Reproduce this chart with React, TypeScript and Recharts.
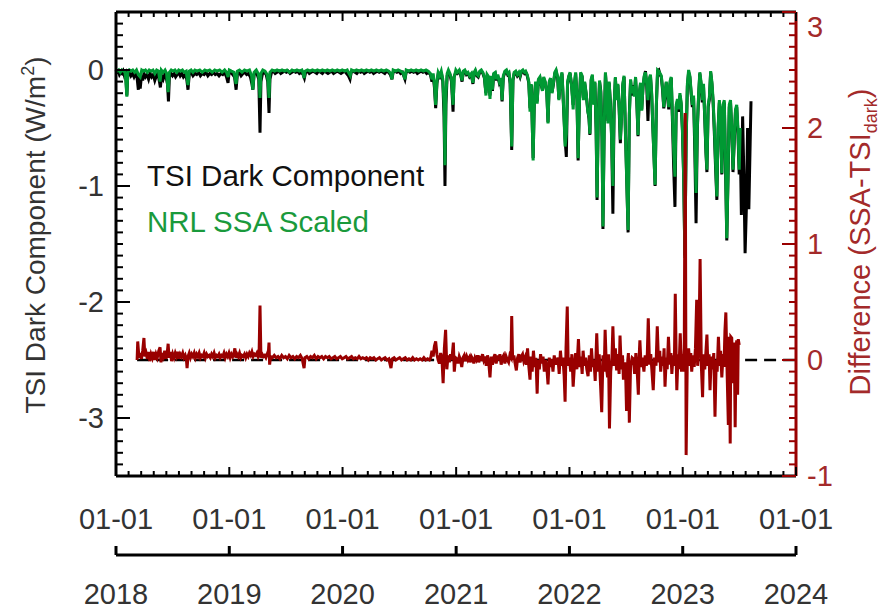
import React from 'react';
import { ComposedChart, Line, XAxis, YAxis, ReferenceLine } from 'recharts';

// Day offsets counted from 2018-01-01; each New Year's Day gets a major tick.
const yearDays = [0, 365, 730, 1096, 1461, 1826, 2191];
const yearLabels = ['2018', '2019', '2020', '2021', '2022', '2023', '2024'];
const dateLabel = '01-01';

// TSI dark component, W/m^2  [day, value]
const tsiDark: [number, number][] = [
  [0, 0], [3, -0.02], [7, -0.01], [11, -0.04], [15, -0.02], [19, -0.03], [23, -0.01], [27, -0.05], [31, -0.03], [35, -0.22],
  [38, -0.04], [43, -0.02], [48, -0.05], [53, -0.03], [58, -0.06], [63, -0.03], [68, -0.07], [72, -0.17], [75, -0.06], [78, -0.16],
  [82, -0.05], [86, -0.09], [90, -0.03], [95, -0.06], [100, -0.04], [105, -0.08], [110, -0.03], [115, -0.06], [120, -0.04], [125, -0.09],
  [130, -0.05], [135, -0.03], [140, -0.1], [143, -0.15], [147, -0.05], [152, -0.08], [157, -0.04], [162, -0.07], [166, -0.12], [169, -0.27],
  [172, -0.06], [177, -0.03], [182, -0.05], [187, -0.03], [192, -0.06], [197, -0.04], [202, -0.02], [207, -0.05], [212, -0.03], [217, -0.06],
  [222, -0.04], [228, -0.08], [232, -0.17], [236, -0.04], [242, -0.02], [248, -0.05], [254, -0.03], [260, -0.04], [266, -0.02], [272, -0.05],
  [278, -0.03], [284, -0.04], [290, -0.02], [296, -0.05], [302, -0.03], [308, -0.04], [314, -0.02], [320, -0.04], [326, -0.03], [332, -0.05],
  [338, -0.03], [344, -0.04], [350, -0.02], [356, -0.06], [361, -0.11], [364, -0.03], [370, -0.02], [376, -0.04], [382, -0.06], [387, -0.17],
  [391, -0.04], [397, -0.02], [403, -0.05], [409, -0.03], [415, -0.02], [421, -0.04], [427, -0.03], [433, -0.06], [438, -0.12], [441, -0.17],
  [445, -0.04], [450, -0.02], [455, -0.04], [460, -0.08], [464, -0.54], [467, -0.1], [472, -0.03], [478, -0.02], [484, -0.04], [489, -0.1],
  [493, -0.37], [496, -0.08], [501, -0.02], [507, -0.01], [513, -0.03], [519, -0.02], [525, -0.01], [531, -0.03], [537, -0.02], [543, -0.01],
  [549, -0.02], [555, -0.01], [561, -0.03], [567, -0.02], [573, -0.01], [579, -0.02], [585, -0.01], [591, -0.03], [597, -0.02], [603, -0.04],
  [607, -0.07], [611, -0.02], [617, -0.01], [623, -0.03], [629, -0.02], [635, -0.01], [641, -0.02], [647, -0.03], [653, -0.01], [659, -0.02],
  [665, -0.03], [671, -0.01], [677, -0.02], [683, -0.03], [689, -0.02], [695, -0.01], [701, -0.03], [707, -0.02], [713, -0.01], [719, -0.02],
  [725, -0.03], [731, -0.02], [737, -0.01], [743, -0.03], [749, -0.05], [754, -0.08], [758, -0.02], [764, -0.01], [770, -0.02], [776, -0.03],
  [782, -0.01], [788, -0.02], [794, -0.01], [800, -0.03], [806, -0.02], [812, -0.01], [818, -0.02], [824, -0.01], [830, -0.03], [836, -0.02],
  [842, -0.01], [848, -0.02], [854, -0.01], [860, -0.02], [866, -0.03], [872, -0.01], [878, -0.02], [884, -0.04], [889, -0.08], [893, -0.02],
  [899, -0.01], [905, -0.02], [911, -0.01], [917, -0.03], [923, -0.02], [927, -0.05], [931, -0.08], [935, -0.02], [941, -0.01], [947, -0.02],
  [953, -0.01], [959, -0.02], [965, -0.01], [971, -0.03], [977, -0.02], [983, -0.01], [989, -0.02], [995, -0.01], [1001, -0.03], [1007, -0.02],
  [1013, -0.04], [1018, -0.1], [1022, -0.05], [1026, -0.15], [1030, -0.33], [1034, -0.12], [1038, -0.04], [1043, -0.06], [1048, -0.02], [1053, -0.1],
  [1057, -0.4], [1060, -1.0], [1063, -0.3], [1067, -0.05], [1071, -0.02], [1076, -0.04], [1081, -0.1], [1086, -0.36], [1089, -0.06], [1095, -0.02],
  [1100, -0.03], [1106, -0.01], [1111, -0.05], [1115, -0.1], [1119, -0.02], [1124, -0.01], [1129, -0.04], [1134, -0.03], [1139, -0.06], [1145, -0.04],
  [1150, -0.12], [1154, -0.03], [1158, -0.01], [1163, -0.05], [1167, -0.06], [1172, -0.02], [1177, -0.01], [1182, -0.03], [1187, -0.07], [1192, -0.2],
  [1196, -0.05], [1201, -0.07], [1205, -0.22], [1209, -0.06], [1213, -0.18], [1217, -0.04], [1222, -0.03], [1226, -0.09], [1230, -0.05], [1235, -0.11],
  [1240, -0.08], [1244, -0.27], [1248, -0.06], [1253, -0.02], [1258, -0.01], [1262, -0.04], [1266, -0.03], [1270, -0.12], [1275, -0.69], [1279, -0.09],
  [1283, -0.03], [1288, -0.02], [1293, -0.05], [1298, -0.03], [1302, -0.06], [1306, -0.02], [1311, -0.01], [1316, -0.03], [1320, -0.02], [1325, -0.05],
  [1330, -0.11], [1334, -0.33], [1338, -0.13], [1344, -0.76], [1348, -0.25], [1352, -0.11], [1357, -0.27], [1361, -0.09], [1366, -0.07], [1370, -0.13],
  [1374, -0.17], [1378, -0.07], [1383, -0.11], [1388, -0.19], [1392, -0.45], [1396, -0.11], [1400, -0.08], [1405, -0.19], [1409, -0.13], [1414, -0.03],
  [1418, -0.01], [1423, -0.07], [1427, -0.25], [1432, -0.09], [1437, -0.03], [1442, -0.32], [1447, -0.6], [1451, -0.75], [1455, -0.12], [1459, -0.06],
  [1463, -0.03], [1468, -0.13], [1473, -0.3], [1477, -0.13], [1481, -0.03], [1485, -0.22], [1489, -0.78], [1493, -0.28], [1497, -0.03], [1502, -0.06],
  [1506, -0.24], [1510, -0.11], [1515, -0.21], [1520, -0.34], [1524, -0.42], [1527, -0.56], [1531, -0.09], [1535, -0.05], [1539, -0.28], [1543, -0.11],
  [1547, -0.52], [1550, -1.12], [1554, -0.38], [1558, -0.1], [1562, -0.18], [1566, -0.58], [1569, -1.37], [1573, -0.48], [1577, -0.03], [1581, -0.19],
  [1585, -0.44], [1589, -0.11], [1593, -0.28], [1597, -0.58], [1601, -1.24], [1605, -0.32], [1609, -0.07], [1613, -0.25], [1617, -0.13], [1621, -0.33],
  [1625, -0.63], [1629, -0.38], [1633, -0.13], [1637, -0.06], [1641, -0.48], [1646, -0.98], [1650, -1.4], [1654, -0.38], [1658, -0.09], [1662, -0.22],
  [1666, -0.13], [1670, -0.22], [1674, -0.07], [1678, -0.27], [1682, -0.57], [1686, -0.22], [1690, -0.12], [1694, -0.34], [1698, -0.15], [1702, -0.06],
  [1706, -0.01], [1710, -0.13], [1714, -0.44], [1718, -0.1], [1722, -0.05], [1726, -0.22], [1730, -0.52], [1734, -0.78], [1737, -1.0], [1741, -0.32],
  [1745, -0.01], [1749, 0], [1753, -0.04], [1757, -0.06], [1761, -0.17], [1765, -0.33], [1769, -0.22], [1773, -0.11], [1777, -0.22], [1781, -0.34],
  [1785, -0.12], [1789, -0.07], [1793, -0.45], [1797, -0.85], [1801, -1.18], [1805, -0.32], [1809, -0.27], [1813, -0.36], [1817, -0.22], [1821, -0.3],
  [1825, -0.52], [1829, -0.92], [1833, -1.6], [1837, -0.62], [1841, -0.14], [1845, -0.02], [1849, -0.06], [1853, -0.2], [1857, -0.32], [1861, -0.24],
  [1865, -0.7], [1869, -1.32], [1873, -0.52], [1877, -0.24], [1881, -0.03], [1885, -0.12], [1889, -0.28], [1893, -0.14], [1897, -0.42], [1901, -0.72],
  [1904, -0.88], [1908, -0.32], [1912, -0.25], [1916, -0.02], [1920, -0.12], [1924, -0.28], [1928, -0.55], [1932, -0.85], [1936, -1.12], [1940, -0.52],
  [1944, -0.28], [1948, -0.42], [1952, -0.9], [1956, -0.32], [1960, -0.28], [1964, -0.85], [1968, -1.47], [1972, -0.92], [1976, -0.32], [1980, -0.28],
  [1984, -0.52], [1988, -0.88], [1992, -0.62], [1996, -0.36], [2000, -0.32], [2004, -0.55], [2008, -0.9], [2011, -0.55], [2015, -1.25], [2019, -0.4],
  [2023, -0.9], [2027, -1.58], [2031, -1.2], [2035, -0.5], [2039, -1.2], [2046, -0.27],
];

// NRL SSA, scaled to the TSI dark component  [day, value]
const ssaScaled: [number, number][] = [
  [0, 0], [4, -0.01], [9, 0], [14, -0.02], [19, 0], [24, -0.01], [29, -0.02], [32, -0.1], [35, -0.23], [38, -0.02],
  [43, 0], [48, -0.01], [54, 0], [60, -0.02], [66, 0], [72, -0.04], [78, -0.06], [83, 0], [89, -0.01], [95, 0],
  [101, -0.02], [107, 0], [113, -0.01], [119, 0], [125, -0.03], [131, 0], [137, -0.01], [142, -0.1], [146, 0], [152, -0.02],
  [158, 0], [163, -0.03], [168, -0.19], [172, -0.02], [178, 0], [184, -0.01], [190, 0], [196, -0.02], [202, 0], [208, -0.01],
  [214, 0], [220, -0.02], [226, -0.01], [232, -0.13], [236, -0.01], [242, 0], [248, -0.02], [254, 0], [262, -0.01], [270, 0],
  [278, -0.02], [286, 0], [294, -0.01], [302, 0], [310, -0.02], [318, 0], [326, -0.01], [334, 0], [342, -0.02], [350, 0],
  [356, -0.02], [361, -0.06], [365, 0], [372, -0.01], [380, -0.02], [387, -0.12], [391, -0.01], [398, 0], [406, -0.02], [414, 0],
  [422, -0.01], [430, 0], [437, -0.05], [441, -0.17], [445, -0.02], [452, 0], [458, -0.03], [461, -0.08], [464, -0.24], [467, -0.03],
  [473, 0], [480, -0.01], [487, -0.04], [490, -0.1], [493, -0.24], [496, -0.02], [503, 0], [511, -0.01], [519, 0], [527, -0.01],
  [535, 0], [543, -0.01], [551, 0], [559, -0.02], [567, 0], [575, -0.01], [583, 0], [591, -0.01], [599, 0], [603, -0.03],
  [606, -0.07], [609, -0.01], [617, 0], [625, -0.01], [633, 0], [641, -0.01], [649, 0], [657, -0.01], [665, 0], [673, -0.01],
  [681, 0], [689, -0.01], [697, 0], [705, -0.01], [713, 0], [721, -0.01], [729, 0], [737, -0.01], [745, 0], [751, -0.03],
  [755, -0.05], [759, 0], [767, -0.01], [775, 0], [783, -0.01], [791, 0], [799, -0.01], [807, 0], [815, -0.01], [823, 0],
  [831, -0.01], [839, 0], [847, -0.01], [855, 0], [863, -0.01], [871, 0], [879, -0.01], [885, -0.03], [889, -0.08], [893, 0],
  [901, -0.01], [909, 0], [917, -0.01], [924, -0.02], [928, -0.05], [931, -0.08], [935, 0], [943, -0.01], [951, 0], [959, -0.01],
  [967, 0], [975, -0.01], [983, 0], [991, -0.01], [999, 0], [1006, -0.01], [1013, -0.03], [1018, -0.08], [1022, -0.03], [1026, -0.12],
  [1030, -0.3], [1034, -0.1], [1038, -0.02], [1043, -0.05], [1048, -0.01], [1053, -0.08], [1057, -0.3], [1060, -0.82], [1063, -0.22], [1067, -0.03],
  [1071, 0], [1076, -0.03], [1081, -0.08], [1086, -0.3], [1090, -0.06], [1095, 0], [1100, -0.02], [1106, 0], [1111, -0.04], [1115, -0.09],
  [1119, -0.01], [1124, 0], [1129, -0.03], [1134, -0.02], [1139, -0.05], [1145, -0.03], [1150, -0.11], [1154, -0.02], [1158, 0], [1163, -0.04],
  [1167, -0.05], [1172, -0.01], [1177, 0], [1182, -0.02], [1187, -0.06], [1192, -0.22], [1196, -0.04], [1201, -0.06], [1205, -0.25], [1209, -0.05],
  [1213, -0.17], [1217, -0.03], [1222, -0.02], [1226, -0.08], [1230, -0.04], [1235, -0.1], [1240, -0.07], [1244, -0.26], [1248, -0.05], [1253, -0.01],
  [1258, 0], [1262, -0.03], [1266, -0.02], [1270, -0.1], [1275, -0.66], [1279, -0.08], [1283, -0.02], [1288, -0.01], [1293, -0.04], [1298, -0.02],
  [1302, -0.05], [1306, -0.01], [1311, 0], [1316, -0.02], [1320, -0.01], [1325, -0.04], [1330, -0.1], [1334, -0.36], [1338, -0.12], [1344, -0.78],
  [1348, -0.24], [1352, -0.1], [1357, -0.29], [1361, -0.08], [1366, -0.06], [1370, -0.12], [1374, -0.18], [1378, -0.06], [1383, -0.1], [1388, -0.2],
  [1392, -0.46], [1396, -0.1], [1400, -0.07], [1405, -0.2], [1409, -0.12], [1414, -0.02], [1418, 0], [1423, -0.06], [1427, -0.26], [1432, -0.08],
  [1437, -0.02], [1442, -0.3], [1447, -0.66], [1451, -0.55], [1455, -0.1], [1459, -0.05], [1463, -0.02], [1468, -0.14], [1473, -0.34], [1477, -0.12],
  [1481, -0.02], [1485, -0.2], [1489, -0.76], [1493, -0.3], [1497, -0.02], [1502, -0.05], [1506, -0.26], [1510, -0.1], [1515, -0.2], [1520, -0.36],
  [1524, -0.4], [1527, -0.55], [1531, -0.08], [1535, -0.04], [1539, -0.3], [1543, -0.1], [1547, -0.5], [1550, -1.1], [1554, -0.4], [1558, -0.09],
  [1562, -0.2], [1566, -0.6], [1569, -1.35], [1573, -0.5], [1577, -0.02], [1581, -0.2], [1585, -0.46], [1589, -0.1], [1593, -0.3], [1597, -0.6],
  [1601, -1.0], [1605, -0.3], [1609, -0.06], [1613, -0.26], [1617, -0.12], [1621, -0.3], [1625, -0.6], [1629, -0.4], [1633, -0.12], [1637, -0.05],
  [1641, -0.5], [1646, -1.0], [1650, -1.38], [1654, -0.4], [1658, -0.08], [1662, -0.2], [1666, -0.14], [1670, -0.23], [1674, -0.06], [1678, -0.25],
  [1682, -0.56], [1686, -0.2], [1690, -0.11], [1694, -0.35], [1698, -0.14], [1702, -0.05], [1706, -0.02], [1710, -0.12], [1714, -0.26], [1718, -0.08],
  [1722, -0.04], [1726, -0.2], [1730, -0.5], [1734, -0.8], [1737, -0.99], [1741, -0.3], [1745, 0], [1749, -0.01], [1753, -0.03], [1757, -0.05],
  [1761, -0.15], [1765, -0.32], [1769, -0.2], [1773, -0.1], [1777, -0.2], [1781, -0.32], [1785, -0.1], [1789, -0.06], [1793, -0.4], [1797, -0.7],
  [1801, -0.92], [1805, -0.3], [1809, -0.25], [1813, -0.34], [1817, -0.2], [1821, -0.28], [1825, -0.5], [1829, -0.9], [1833, -1.62], [1837, -0.6],
  [1841, -0.12], [1845, 0], [1849, -0.05], [1853, -0.18], [1857, -0.3], [1861, -0.22], [1865, -0.6], [1869, -1.06], [1873, -0.5], [1877, -0.22],
  [1881, -0.02], [1885, -0.1], [1889, -0.26], [1893, -0.12], [1897, -0.4], [1901, -0.7], [1904, -0.86], [1908, -0.3], [1912, -0.23], [1916, -0.01],
  [1920, -0.1], [1924, -0.26], [1928, -0.5], [1932, -0.8], [1936, -1.09], [1940, -0.5], [1944, -0.26], [1948, -0.4], [1952, -0.89], [1956, -0.3],
  [1960, -0.26], [1964, -0.8], [1968, -1.45], [1972, -0.9], [1976, -0.3], [1980, -0.26], [1984, -0.5], [1988, -0.86], [1992, -0.6], [1996, -0.34],
  [2000, -0.3], [2004, -0.5], [2008, -0.86], [2011, -0.5],
];

// SSA minus TSI dark component  [day, value]
const difference: [number, number][] = [
  [68, 0.0], [70, 0.16], [74, 0.02], [78, 0.06], [82, 0.01], [86, 0.08], [90, 0.19], [93, 0.03], [97, 0.06], [101, 0.01],
  [105, 0.07], [109, -0.01], [113, 0.05], [117, 0.02], [121, 0.07], [125, 0.0], [129, 0.05], [133, 0.02], [138, 0.08], [142, 0.11],
  [145, -0.02], [149, 0.06], [153, 0.03], [157, 0.08], [161, 0.01], [165, 0.06], [168, 0.14], [171, 0.02], [175, 0.07], [179, -0.01],
  [183, 0.05], [187, 0.02], [191, 0.06], [195, 0.03], [199, 0.07], [203, 0.01], [207, 0.05], [211, 0.03], [215, 0.06], [219, 0.02],
  [223, 0.04], [227, 0.0], [229, -0.07], [232, 0.03], [236, 0.06], [240, 0.02], [244, 0.05], [248, 0.03], [252, 0.06], [256, 0.02],
  [260, 0.05], [264, 0.03], [268, 0.06], [272, 0.02], [276, 0.04], [280, 0.03], [284, 0.06], [288, 0.02], [292, 0.05], [296, 0.03],
  [300, 0.04], [304, 0.02], [308, 0.05], [312, 0.03], [316, 0.06], [320, 0.02], [324, 0.04], [328, 0.03], [332, 0.05], [336, 0.02],
  [340, 0.04], [344, 0.03], [348, 0.06], [352, 0.02], [356, 0.05], [360, 0.03], [364, 0.06], [368, 0.02], [372, 0.05], [376, 0.03],
  [380, 0.06], [383, 0.1], [386, 0.02], [390, 0.05], [394, 0.03], [398, 0.06], [402, 0.02], [406, 0.04], [410, 0.03], [414, 0.05],
  [418, 0.02], [422, 0.05], [426, 0.03], [430, 0.06], [434, 0.04], [438, 0.07], [442, 0.03], [446, 0.05], [450, 0.04], [454, 0.06],
  [458, 0.03], [461, 0.05], [464, 0.47], [467, 0.02], [471, 0.05], [475, 0.03], [479, 0.04], [483, 0.02], [487, 0.05], [490, 0.03],
  [493, 0.15], [495, -0.04], [498, 0.03], [504, 0.02], [510, 0.04], [516, 0.02], [522, 0.03], [528, 0.01], [534, 0.04], [540, 0.02],
  [546, 0.03], [552, 0.01], [558, 0.04], [564, 0.02], [570, 0.03], [576, 0.01], [582, 0.03], [588, 0.02], [594, 0.04], [600, 0.01],
  [606, -0.07], [609, 0.02], [615, 0.03], [621, 0.01], [627, 0.03], [633, 0.02], [639, 0.04], [645, 0.01], [651, 0.03], [657, 0.02],
  [663, 0.03], [669, 0.01], [675, 0.03], [681, 0.02], [687, 0.03], [693, 0.01], [699, 0.02], [705, 0.03], [711, 0.01], [717, 0.02],
  [723, 0.03], [729, 0.01], [735, 0.02], [741, 0.03], [747, 0.01], [753, 0.02], [759, 0.03], [765, 0.01], [771, 0.02], [777, 0.01],
  [783, 0.03], [789, 0.01], [795, 0.02], [801, 0.01], [807, 0.02], [813, 0.0], [819, 0.02], [825, 0.01], [831, 0.02], [837, 0.0],
  [843, 0.01], [849, 0.02], [855, 0.0], [861, 0.01], [867, 0.02], [873, 0.0], [879, 0.01], [886, -0.07], [890, 0.01], [896, 0.02],
  [902, 0.0], [908, 0.01], [914, 0.02], [920, 0.0], [926, 0.01], [932, 0.02], [938, 0.0], [944, 0.01], [950, 0.0], [956, 0.02],
  [962, 0.0], [968, 0.01], [974, 0.0], [980, 0.01], [986, 0.0], [992, 0.02], [998, 0.0], [1004, 0.01], [1010, 0.0], [1014, 0.02],
  [1018, 0.08], [1022, 0.03], [1026, 0.12], [1030, 0.16], [1034, 0.05], [1038, 0.0], [1042, -0.03], [1046, 0.06], [1050, 0.02], [1054, -0.2],
  [1058, 0.1], [1062, 0.26], [1066, -0.08], [1070, 0.04], [1074, -0.02], [1078, 0.05], [1082, 0.0], [1087, 0.15], [1090, -0.1], [1094, 0.02],
  [1098, 0.01], [1102, -0.03], [1106, 0.03], [1110, 0.0], [1114, -0.06], [1118, 0.02], [1122, 0.04], [1126, -0.01], [1130, 0.03], [1134, 0.0],
  [1138, 0.02], [1141, -0.02], [1145, 0.03], [1149, 0.01], [1153, -0.03], [1157, 0.02], [1161, 0.0], [1165, 0.04], [1169, -0.02], [1173, 0.02],
  [1177, 0.01], [1181, 0.05], [1185, 0.0], [1189, 0.03], [1193, -0.05], [1197, 0.04], [1201, -0.02], [1205, -0.15], [1209, 0.03], [1213, -0.04],
  [1217, 0.02], [1221, 0.05], [1225, -0.03], [1229, 0.04], [1233, 0.0], [1237, 0.05], [1241, -0.04], [1245, 0.02], [1249, 0.04], [1253, -0.03],
  [1257, 0.03], [1261, 0.0], [1265, -0.02], [1269, 0.04], [1273, 0.02], [1275, 0.38], [1278, 0.0], [1282, 0.04], [1286, -0.03], [1290, -0.09],
  [1294, 0.02], [1298, 0.05], [1302, -0.02], [1306, 0.03], [1310, 0.05], [1314, -0.01], [1318, 0.02], [1322, -0.04], [1326, 0.1], [1330, -0.05],
  [1334, -0.17], [1337, 0.03], [1341, -0.1], [1345, 0.08], [1349, -0.06], [1353, 0.02], [1357, -0.29], [1360, 0.0], [1364, -0.08], [1368, 0.05],
  [1372, -0.03], [1376, 0.03], [1380, -0.1], [1384, 0.0], [1388, -0.06], [1392, -0.21], [1396, 0.02], [1400, -0.06], [1404, 0.01], [1408, -0.1],
  [1412, 0.04], [1416, -0.03], [1420, -0.03], [1424, 0.02], [1428, -0.12], [1432, 0.08], [1436, -0.05], [1440, 0.02], [1444, -0.14], [1447, -0.36],
  [1450, 0.1], [1454, 0.46], [1457, -0.05], [1461, 0.02], [1465, -0.1], [1469, 0.05], [1473, -0.23], [1477, -0.05], [1481, 0.06], [1485, -0.08],
  [1490, 0.18], [1494, -0.06], [1498, 0.03], [1502, -0.12], [1505, 0.08], [1509, -0.05], [1513, 0.02], [1517, -0.08], [1521, -0.14], [1525, 0.04],
  [1529, -0.1], [1532, 0.1], [1536, -0.06], [1540, 0.0], [1544, -0.18], [1549, 0.23], [1553, -0.1], [1557, 0.05], [1561, -0.2], [1565, -0.45],
  [1569, 0.04], [1573, -0.1], [1576, 0.26], [1580, -0.06], [1584, -0.15], [1587, 0.05], [1590, -0.59], [1594, -0.1], [1598, 0.02], [1601, 0.29],
  [1605, -0.05], [1609, 0.1], [1613, -0.09], [1617, 0.05], [1621, -0.12], [1624, 0.21], [1628, -0.08], [1632, 0.04], [1635, -0.17], [1639, -0.02],
  [1642, -0.1], [1645, -0.44], [1649, 0.0], [1651, 0.06], [1654, -0.54], [1658, -0.05], [1663, 0.02], [1667, 0.01], [1671, -0.12], [1675, 0.06],
  [1679, -0.08], [1683, -0.3], [1686, 0.05], [1688, 0.17], [1692, -0.06], [1696, 0.02], [1701, -0.1], [1705, 0.04], [1709, -0.05], [1712, 0.06],
  [1715, 0.36], [1719, -0.04], [1723, 0.05], [1727, -0.1], [1731, -0.26], [1735, 0.02], [1740, -0.05], [1744, 0.29], [1748, -0.02], [1752, 0.08],
  [1755, -0.1], [1759, 0.03], [1763, -0.05], [1766, 0.1], [1769, -0.23], [1773, 0.02], [1776, -0.08], [1780, 0.2], [1784, -0.04], [1788, 0.06],
  [1791, -0.12], [1795, 0.04], [1799, -0.05], [1802, 0.57], [1805, 0.0], [1807, -0.26], [1811, 0.05], [1814, -0.08], [1818, 0.23], [1822, -0.1],
  [1825, 0.05], [1828, -0.1], [1831, 0.1], [1834, 2.13], [1837, -0.82], [1841, 0.05], [1845, 0.1], [1849, -0.05], [1852, 0.06], [1855, -0.1],
  [1859, 0.04], [1863, -0.06], [1867, 0.1], [1871, 0.52], [1874, -0.05], [1878, 0.1], [1882, 0.87], [1886, -0.05], [1890, -0.32], [1893, 0.05],
  [1897, -0.08], [1901, 0.08], [1904, 0.22], [1907, -0.05], [1911, 0.05], [1914, -0.26], [1918, 0.03], [1922, -0.08], [1926, 0.06], [1930, -0.49],
  [1934, 0.0], [1937, -0.1], [1941, 0.2], [1945, -0.05], [1948, 0.08], [1952, -0.15], [1956, 0.05], [1959, -0.06], [1962, 0.25], [1965, 0.41],
  [1969, -0.1], [1973, -0.56], [1976, 0.2], [1979, -0.72], [1981, 0.2], [1984, 0.19], [1987, -0.2], [1990, 0.15], [1993, -0.1], [1995, -0.58],
  [1998, 0.1], [2000, 0.17], [2003, -0.3], [2005, 0.18], [2008, 0.13],
];

const toPoints = (rows: [number, number][]) => rows.map(([t, v]) => ({ t, v }));
const tsiPoints = toPoints(tsiDark);
const ssaPoints = toPoints(ssaScaled);
const diffPoints = toPoints(difference);

const FONT = '"Liberation Sans", Arial, Helvetica, sans-serif';
const RED = '#990000';
const GREEN = '#009933';
const TEXT = '#333333';

// Nine sub-intervals per year on the time axes
const xTicks: number[] = [];
yearDays.forEach((d, i) => {
  xTicks.push(d);
  if (i < yearDays.length - 1) {
    const span = yearDays[i + 1] - d;
    for (let k = 1; k < 9; k++) xTicks.push(d + (span * k) / 9);
  }
});
const isYear = (v: number) => yearDays.some((d) => Math.abs(d - v) < 1e-6);

const leftTicks: number[] = [];
for (let i = -35; i <= 5; i++) leftTicks.push(i / 10);
const rightTicks: number[] = [];
for (let i = -10; i <= 30; i++) rightTicks.push(i / 10);
const isInt = (v: number) => Math.abs(v - Math.round(v)) < 1e-6;
const fmtInt = (v: number) => String(Math.round(v) === 0 ? 0 : Math.round(v));

const BottomTick = (p: any) => {
  const { x, y, payload } = p;
  const major = isYear(payload.value);
  return (
    <g>
      <line x1={x} x2={x} y1={y} y2={y - (major ? 9 : 5)} stroke="#000" strokeWidth={2} />
      {major && (
        <text x={x} y={y + 53} textAnchor="middle" fontFamily={FONT} fontSize={29} fill={TEXT}>
          {dateLabel}
        </text>
      )}
    </g>
  );
};

const TopTick = (p: any) => {
  const { x, y, payload } = p;
  const major = isYear(payload.value);
  return <line x1={x} x2={x} y1={y} y2={y + (major ? 9 : 5)} stroke="#000" strokeWidth={2} />;
};

const YearTick = (p: any) => {
  const { x, y, payload } = p;
  const idx = yearDays.findIndex((d) => Math.abs(d - payload.value) < 1e-6);
  return (
    <g>
      <line x1={x} x2={x} y1={y} y2={y - 9} stroke="#000" strokeWidth={3} />
      <text x={x} y={y + 49} textAnchor="middle" fontFamily={FONT} fontSize={29} fill={TEXT}>
        {yearLabels[idx]}
      </text>
    </g>
  );
};

const LeftTick = (p: any) => {
  const { x, y, payload } = p;
  const major = isInt(payload.value);
  return (
    <g>
      <line x1={x} x2={x + (major ? 14 : 7)} y1={y} y2={y} stroke="#000" strokeWidth={2} />
      {major && (
        <text x={x - 12} y={y + 10} textAnchor="end" fontFamily={FONT} fontSize={29} fill={TEXT}>
          {fmtInt(payload.value)}
        </text>
      )}
    </g>
  );
};

const RightTick = (p: any) => {
  const { x, y, payload } = p;
  const major = isInt(payload.value);
  // the topmost label is nudged down so it stays clear of the frame corner
  const ly = Math.max(y, 27);
  return (
    <g>
      <line x1={x} x2={x - (major ? 14 : 7)} y1={y} y2={y} stroke={RED} strokeWidth={2} />
      {major && (
        <text x={x + 11} y={ly + 10} textAnchor="start" fontFamily={FONT} fontSize={29} fill="#a32a2a">
          {fmtInt(payload.value)}
        </text>
      )}
    </g>
  );
};

const Titles = () => (
  <g fontFamily={FONT}>
    <text x={45} y={235} transform="rotate(-90 45 235)" textAnchor="middle" fontSize={28} fill={TEXT}>
      TSI Dark Component (W/m
      <tspan dy={-11} fontSize={18}>2</tspan>
      <tspan dy={11}>)</tspan>
    </text>
    <text x={870} y={242} transform="rotate(-90 870 242)" textAnchor="middle" fontSize={29} fill="#a32a2a">
      Difference (SSA-TSI
      <tspan dy={7} fontSize={18}>dark</tspan>
      <tspan dy={-7}>)</tspan>
    </text>
    <text x={147} y={186} fontSize={29.5} fill="#111">TSI Dark Component</text>
    <text x={147} y={232} fontSize={29.5} fill="#1a9a3c">NRL SSA Scaled</text>
  </g>
);

const timeAxis = {
  type: 'number' as const,
  dataKey: 't',
  domain: [0, 2191] as [number, number],
  interval: 0 as const,
  tickSize: 0,
  tickMargin: 0,
  tickLine: false,
  axisLine: { stroke: '#000', strokeWidth: 3 },
};

export default function App() {
  return (
    <div style={{ position: 'absolute', left: 0, top: 0, background: '#fff' }}>
      <ComposedChart width={883} height={611} data={tsiPoints} margin={{ top: 0, right: 7, bottom: 0, left: 16 }}>
        <XAxis
          {...timeAxis}
          xAxisId="top"
          orientation="top"
          ticks={xTicks}
          height={12}
          tick={(p: any) => <TopTick {...p} />}
        />
        <XAxis
          {...timeAxis}
          xAxisId="main"
          orientation="bottom"
          ticks={xTicks}
          height={79}
          tick={(p: any) => <BottomTick {...p} />}
        />
        <XAxis
          {...timeAxis}
          xAxisId="years"
          orientation="bottom"
          ticks={yearDays}
          height={56}
          tick={(p: any) => <YearTick {...p} />}
        />
        <YAxis
          yAxisId="left"
          orientation="left"
          type="number"
          domain={[-3.5, 0.5]}
          ticks={leftTicks}
          interval={0}
          width={100}
          tickSize={0}
          tickMargin={0}
          tickLine={false}
          axisLine={{ stroke: '#000', strokeWidth: 3 }}
          tick={(p: any) => <LeftTick {...p} />}
        />
        <YAxis
          yAxisId="diff"
          orientation="right"
          type="number"
          domain={[-1, 3]}
          ticks={rightTicks}
          interval={0}
          width={80}
          tickSize={0}
          tickMargin={0}
          tickLine={false}
          axisLine={{ stroke: RED, strokeWidth: 3 }}
          tick={(p: any) => <RightTick {...p} />}
        />
        <Line
          data={tsiPoints}
          dataKey="v"
          xAxisId="main"
          yAxisId="left"
          stroke="#000"
          strokeWidth={3}
          dot={false}
          isAnimationActive={false}
        />
        <Line
          data={ssaPoints}
          dataKey="v"
          xAxisId="main"
          yAxisId="left"
          stroke={GREEN}
          strokeWidth={3}
          dot={false}
          isAnimationActive={false}
        />
        <ReferenceLine
          xAxisId="main"
          yAxisId="diff"
          segment={[{ x: 68, y: 0 }, { x: 2191, y: 0 }]}
          stroke="#000"
          strokeWidth={2.5}
          strokeDasharray="12 7"
        />
        <Line
          data={diffPoints}
          dataKey="v"
          xAxisId="main"
          yAxisId="diff"
          stroke={RED}
          strokeWidth={3}
          dot={false}
          isAnimationActive={false}
        />
        <Titles />
      </ComposedChart>
    </div>
  );
}
